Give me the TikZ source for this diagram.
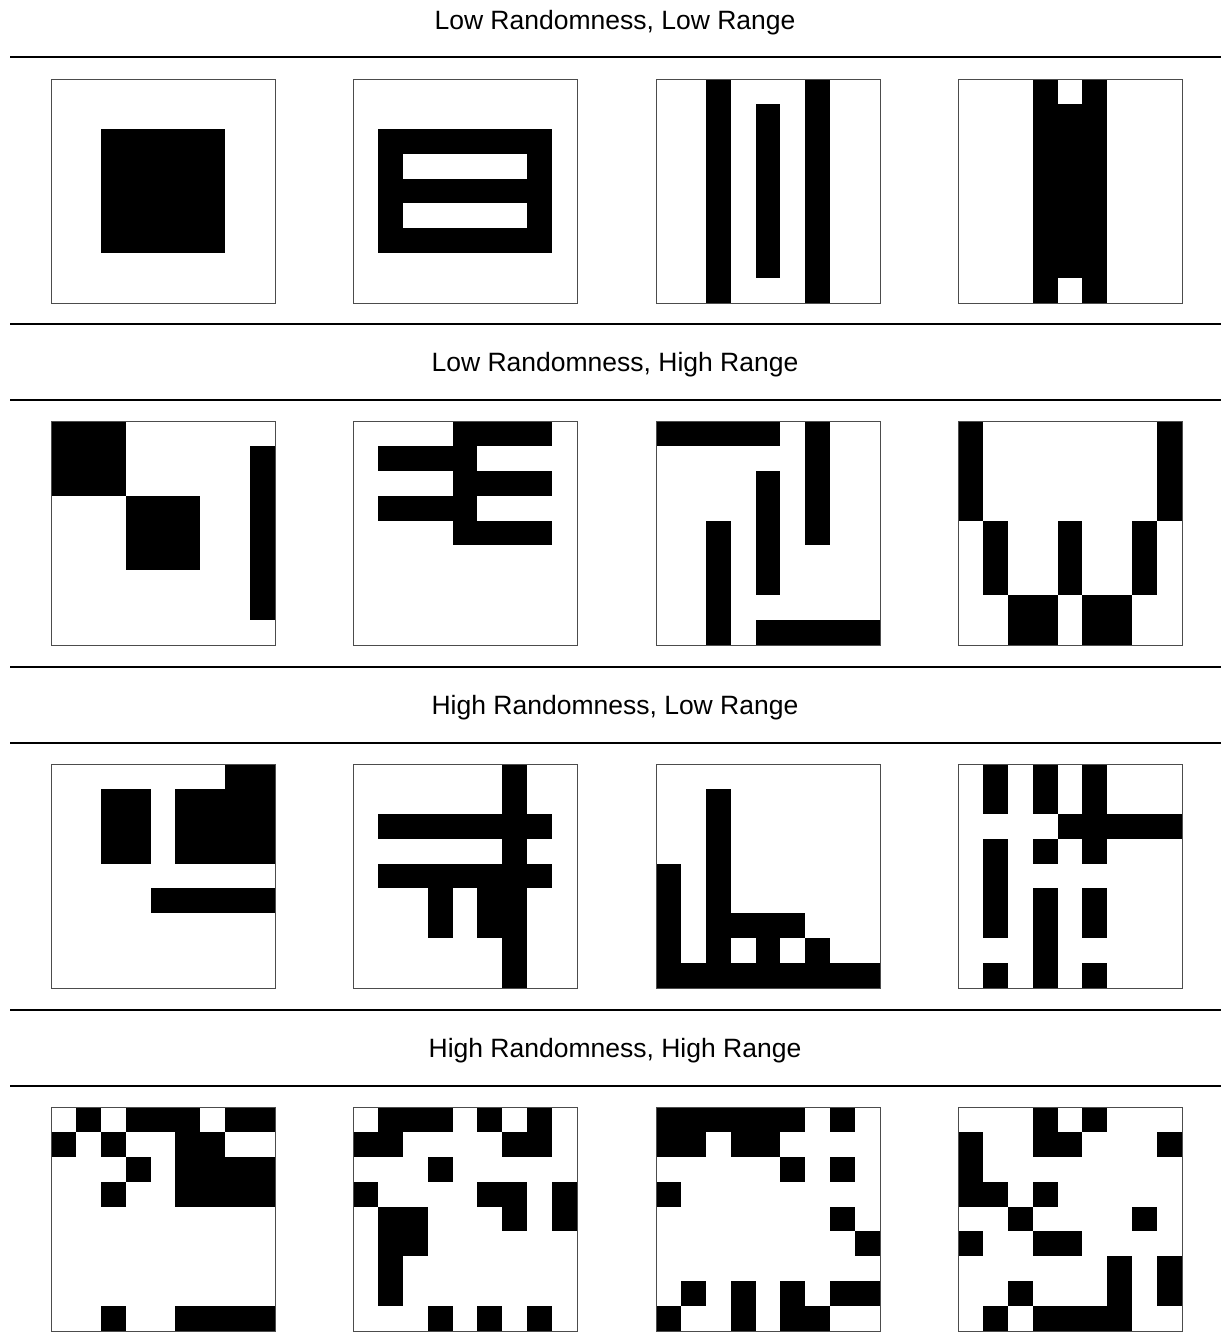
\documentclass[tikz,border=0pt]{standalone}
\usepackage{fontspec}
\setmainfont{Liberation Sans}
\newcommand{\cellsz}{24.889}
% rejilla 9x9: #1,#2 esquina superior izquierda, #3 lista x/y/ancho/alto en celdas
\newcommand{\cellgrid}[3]{%
  \foreach \cx/\cy/\cw/\ch in {#3}
    \fill[black] (#1+\cx*\cellsz, #2+\cy*\cellsz) rectangle ++(\cw*\cellsz, \ch*\cellsz);
  \draw[gridframe] (#1,#2) rectangle ++(224,224);
}
\tikzset{
  gridframe/.style={gray!60!black, line width=1pt},
  rule/.style={black, line width=1.8pt},
  rowtitle/.style={font=\fontsize{26.5}{32}\selectfont, inner sep=0pt}
}

\begin{document}
\begin{tikzpicture}[x=1pt, y=-1pt]
  \useasboundingbox (0,0) rectangle (1221,1344);

  % Titulos y lineas
  \node[rowtitle] (t1) at (615,23) {Low Randomness, Low Range};
  \node[rowtitle] (t2) at (615,365) {Low Randomness, High Range};
  \node[rowtitle] (t3) at (615,708) {High Randomness, Low Range};
  \node[rowtitle] (t4) at (615,1051) {High Randomness, High Range};
  \foreach \ly in {57,324,400,667,743,1010,1086}
    \draw[rule] (10,\ly) -- (1221,\ly);

  % Fila 1: baja aleatoriedad, bajo rango
  \cellgrid{51}{79}{2/2/5/5}
  \cellgrid{353}{79}{1/2/7/1, 1/4/7/1, 1/6/7/1, 1/3/1/1, 7/3/1/1, 1/5/1/1, 7/5/1/1}
  \cellgrid{656}{79}{2/0/1/9, 6/0/1/9, 4/1/1/7}
  \cellgrid{958}{79}{3/0/1/9, 5/0/1/9, 4/1/1/7}

  % Fila 2: baja aleatoriedad, alto rango
  \cellgrid{51}{421}{0/0/3/3, 3/3/3/3, 8/1/1/7}
  \cellgrid{353}{421}{4/0/4/1, 1/1/4/1, 4/2/4/1, 1/3/4/1, 4/4/4/1}
  \cellgrid{656}{421}{0/0/5/1, 6/0/1/5, 4/2/1/5, 2/4/1/5, 4/8/5/1}
  \cellgrid{958}{421}{0/0/1/4, 8/0/1/4, 1/4/1/3, 4/4/1/3, 7/4/1/3, 2/7/2/2, 5/7/2/2}

  % Fila 3: alta aleatoriedad, bajo rango
  \cellgrid{51}{764}{7/0/2/1, 5/1/4/3, 2/1/2/3, 4/5/5/1}
  \cellgrid{353}{764}{6/0/1/9, 1/2/7/1, 1/4/7/1, 3/5/1/2, 5/5/1/2}
  \cellgrid{656}{764}{0/4/1/5, 2/1/1/8, 3/6/3/1, 4/7/1/1, 6/7/1/1, 0/8/9/1}
  \cellgrid{958}{764}{1/0/1/2, 3/0/1/2, 5/0/1/4, 4/2/5/1, 1/3/1/4, 3/3/1/1,
    3/5/1/4, 5/5/1/2, 1/8/1/1, 5/8/1/1}

  % Fila 4: alta aleatoriedad, alto rango
  \cellgrid{51}{1107}{1/0/1/1, 3/0/3/1, 7/0/2/1, 0/1/1/1, 2/1/1/1, 5/1/2/1,
    3/2/1/1, 5/2/4/2, 2/3/1/1, 2/8/1/1, 5/8/4/1}
  \cellgrid{353}{1107}{1/0/3/1, 5/0/1/1, 7/0/1/1, 0/1/2/1, 6/1/2/1, 3/2/1/1,
    0/3/1/1, 5/3/2/1, 8/3/1/2, 1/4/2/2, 6/4/1/1, 1/6/1/2, 3/8/1/1, 5/8/1/1, 7/8/1/1}
  \cellgrid{656}{1107}{0/0/6/1, 7/0/1/1, 0/1/2/1, 3/1/2/1, 5/2/1/1, 7/2/1/1,
    0/3/1/1, 7/4/1/1, 8/5/1/1, 1/7/1/1, 3/7/1/2, 5/7/1/2, 7/7/2/1, 0/8/1/1, 6/8/1/1}
  \cellgrid{958}{1107}{3/0/1/2, 5/0/1/1, 4/1/1/1, 8/1/1/1, 0/1/1/3, 1/3/1/1,
    3/3/1/1, 2/4/1/1, 7/4/1/1, 0/5/1/1, 3/5/2/1, 6/6/1/3, 8/6/1/2, 2/7/1/1,
    1/8/1/1, 3/8/3/1}
\end{tikzpicture}
\end{document}
